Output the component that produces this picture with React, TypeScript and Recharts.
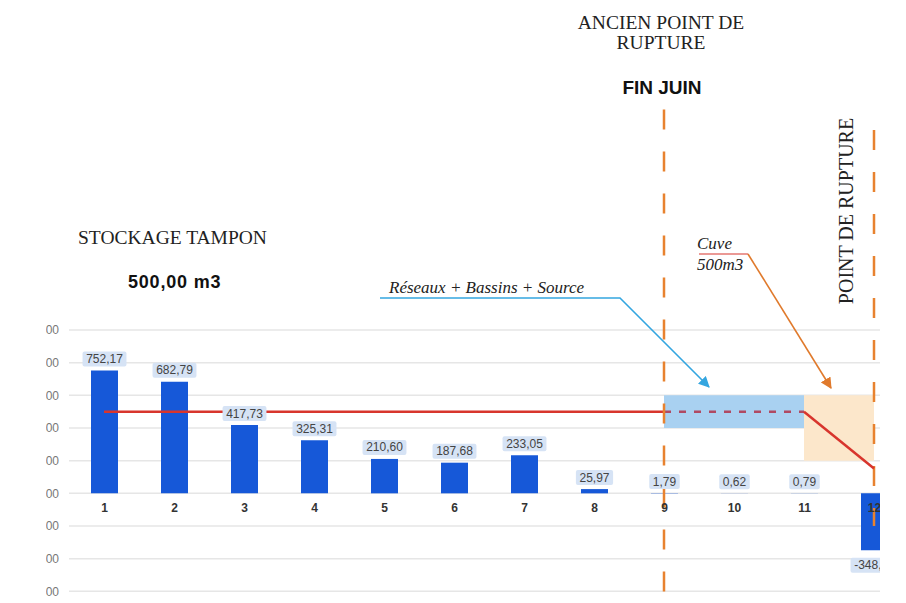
import React from 'react';
import {
  ComposedChart,
  Bar,
  Line,
  Area,
  XAxis,
  YAxis,
  CartesianGrid,
  ReferenceLine,
  LabelList,
} from 'recharts';

// semaines
const weeks = ['1', '2', '3', '4', '5', '6', '7', '8', '9', '10', '11', '12'];
// volume restant (m3)
const volumes = [752.17, 682.79, 417.73, 325.31, 210.6, 187.68, 233.05, 25.97, 1.79, 0.62, 0.79, -348];
// stockage tampon 500 m3
const stockLine = [500, 500, 500, 500, 500, 500, 500, 500, 500, null, null, null];
const stockDashed = [null, null, null, null, null, null, null, null, 500, 500, 500, null];
const stockDrop = [null, null, null, null, null, null, null, null, null, null, 500, 152];
// bandes Réseaux + Bassins + Source / Cuve
const reseauxBand = [null, null, null, null, null, null, null, null, [400, 600], [400, 600], [400, 600], null];
const cuveBand = [null, null, null, null, null, null, null, null, null, null, [200, 600], [200, 600]];
const yTicks = [-600, -400, -200, 0, 200, 400, 600, 800, 1000];

const data = weeks.map((name, i) => ({
  name,
  volume: volumes[i],
  stock: stockLine[i],
  stockDashed: stockDashed[i],
  stockDrop: stockDrop[i],
  reseaux: reseauxBand[i],
  cuve: cuveBand[i],
}));

const fmt = (v: number) => v.toFixed(2).replace('.', ',');

const textWidth = (s: string) =>
  s.split('').reduce((acc, c) => acc + (c === ',' ? 3.4 : c === '-' ? 4 : 6.7), 0);

const ValueTag = (props: any) => {
  const { x, y, width, height, value } = props;
  const top = Math.min(y, y + height);
  const bottom = Math.max(y, y + height);
  const text = fmt(Number(value));
  const w = textWidth(text) + 7;
  const cx = x + width / 2;
  const cy = value < 0 ? bottom + 15 : top - 11.5;
  return (
    <g>
      <rect x={cx - w / 2} y={cy - 7.5} width={w} height={15} rx={2} fill="#d6e3f5" />
      <text
        x={cx}
        y={cy}
        textAnchor="middle"
        dominantBaseline="central"
        fontSize={12}
        fontFamily="Liberation Sans, Arial, sans-serif"
        fill="#444"
      >
        {text}
      </text>
    </g>
  );
};

const WeekTag = (props: any) => {
  const { x, y, width, height, value, index } = props;
  const top = Math.min(y, y + height);
  const bottom = Math.max(y, y + height);
  const v = volumes[index] ?? 1;
  const zeroY = v < 0 ? top : bottom;
  return (
    <text
      x={x + width / 2}
      y={zeroY + 15}
      textAnchor="middle"
      dominantBaseline="central"
      fontSize={12}
      fontWeight="bold"
      fontFamily="Liberation Sans, Arial, sans-serif"
      fill="#333"
    >
      {value}
    </text>
  );
};

const serif = 'Liberation Serif, Times New Roman, serif';
const sans = 'Liberation Sans, Arial, sans-serif';

export default function App() {
  return (
    <div
      style={{
        position: 'fixed',
        left: 0,
        top: 0,
        width: 906,
        height: 603,
        overflow: 'hidden',
        background: '#fff',
      }}
    >
      {/* le graphique est rogné à gauche et à droite comme la capture */}
      <div
        style={{
          position: 'absolute',
          left: 46,
          top: 0,
          width: 834,
          height: 603,
          overflow: 'hidden',
        }}
      >
        <div style={{ position: 'absolute', left: -46, top: 0 }}>
          <ComposedChart
            width={940}
            height={640}
            data={data}
            margin={{ top: 330, right: 31, bottom: 16, left: 0 }}
          >
            <CartesianGrid vertical={false} stroke="#e6e6e6" strokeWidth={1.5} />
            <XAxis dataKey="name" hide />
            <YAxis
              width={69}
              domain={[-800, 1000]}
              ticks={yTicks}
              interval={0}
              tickLine={false}
              axisLine={false}
              tickMargin={4}
              tickFormatter={(v: number) => fmt(v)}
              tick={{ fontSize: 12, fill: '#777', fontFamily: sans }}
            />
            <Area
              type="linear"
              dataKey="reseaux"
              stroke="none"
              fill="#a9d1f1"
              fillOpacity={1}
              isAnimationActive={false}
              dot={false}
              activeDot={false}
            />
            <Area
              type="linear"
              dataKey="cuve"
              stroke="none"
              fill="#fce7cb"
              fillOpacity={1}
              isAnimationActive={false}
              dot={false}
              activeDot={false}
            />
            <ReferenceLine
              segment={[{ x: '12', y: 2225 }, { x: '12', y: -200 }]}
              ifOverflow="visible"
              stroke="#e8822f"
              strokeWidth={2.5}
              strokeDasharray="20 22"
            />
            <Bar dataKey="volume" fill="#1658d8" barSize={27} isAnimationActive={false}>
              <LabelList dataKey="volume" content={ValueTag} />
              <LabelList dataKey="name" content={WeekTag} />
            </Bar>
            <Line
              type="linear"
              dataKey="stock"
              stroke="#d8352d"
              strokeWidth={2.5}
              dot={false}
              activeDot={false}
              isAnimationActive={false}
            />
            <Line
              type="linear"
              dataKey="stockDashed"
              stroke="#b04a63"
              strokeWidth={2.5}
              strokeDasharray="7 8"
              dot={false}
              activeDot={false}
              isAnimationActive={false}
            />
            <Line
              type="linear"
              dataKey="stockDrop"
              stroke="#d8352d"
              strokeWidth={2.5}
              dot={false}
              activeDot={false}
              isAnimationActive={false}
            />
            <ReferenceLine
              segment={[{ x: '9', y: 2350 }, { x: '9', y: -900 }]}
              ifOverflow="visible"
              stroke="#e8822f"
              strokeWidth={2.5}
              strokeDasharray="20 22"
            />
          </ComposedChart>
        </div>
      </div>

      <svg
        width={906}
        height={603}
        style={{ position: 'absolute', left: 0, top: 0, pointerEvents: 'none' }}
      >
        <defs>
          <marker id="arrBlue" viewBox="0 0 10 10" refX="9" refY="5" markerWidth="7" markerHeight="7" orient="auto">
            <path d="M0,0 L10,5 L0,10 z" fill="#34a6e0" />
          </marker>
          <marker id="arrOrange" viewBox="0 0 10 10" refX="9" refY="5" markerWidth="7" markerHeight="7" orient="auto">
            <path d="M0,0 L10,5 L0,10 z" fill="#e07a2c" />
          </marker>
        </defs>

        <text x={661} y={22} textAnchor="middle" dominantBaseline="central" fontFamily={serif} fontSize={19.5} fill="#222">
          ANCIEN POINT DE
        </text>
        <text x={661} y={42} textAnchor="middle" dominantBaseline="central" fontFamily={serif} fontSize={19.5} fill="#222">
          RUPTURE
        </text>
        <text x={662} y={87} textAnchor="middle" dominantBaseline="central" fontFamily={sans} fontSize={19} fontWeight="bold" fill="#111">
          FIN JUIN
        </text>

        <text x={78} y={237} dominantBaseline="central" fontFamily={serif} fontSize={19.5} fill="#222">
          STOCKAGE TAMPON
        </text>
        <text x={128} y={282} dominantBaseline="central" fontFamily={sans} fontSize={18} fontWeight="bold" letterSpacing={0.8} fill="#111">
          500,00 m3
        </text>

        <text x={389} y={287} dominantBaseline="central" fontFamily={serif} fontStyle="italic" fontSize={17} fill="#222">
          Réseaux + Bassins + Source
        </text>
        <polyline
          points="380,298 620,298 709,387"
          fill="none"
          stroke="#34a6e0"
          strokeWidth={1.6}
          markerEnd="url(#arrBlue)"
        />

        <text x={697} y={243} dominantBaseline="central" fontFamily={serif} fontStyle="italic" fontSize={17} fill="#222">
          Cuve
        </text>
        <text x={697} y={264} dominantBaseline="central" fontFamily={serif} fontStyle="italic" fontSize={17} fill="#222">
          500m3
        </text>
        <line x1={699} y1={254} x2={748} y2={254} stroke="#d8352d" strokeWidth={1.2} />
        <line x1={748} y1={254} x2={831} y2={388} stroke="#e07a2c" strokeWidth={1.6} markerEnd="url(#arrOrange)" />

        <text
          x={846}
          y={211}
          textAnchor="middle"
          dominantBaseline="central"
          fontFamily={serif}
          fontSize={20}
          fill="#222"
          transform="rotate(-90 846 211)"
        >
          POINT DE RUPTURE
        </text>
      </svg>
    </div>
  );
}
